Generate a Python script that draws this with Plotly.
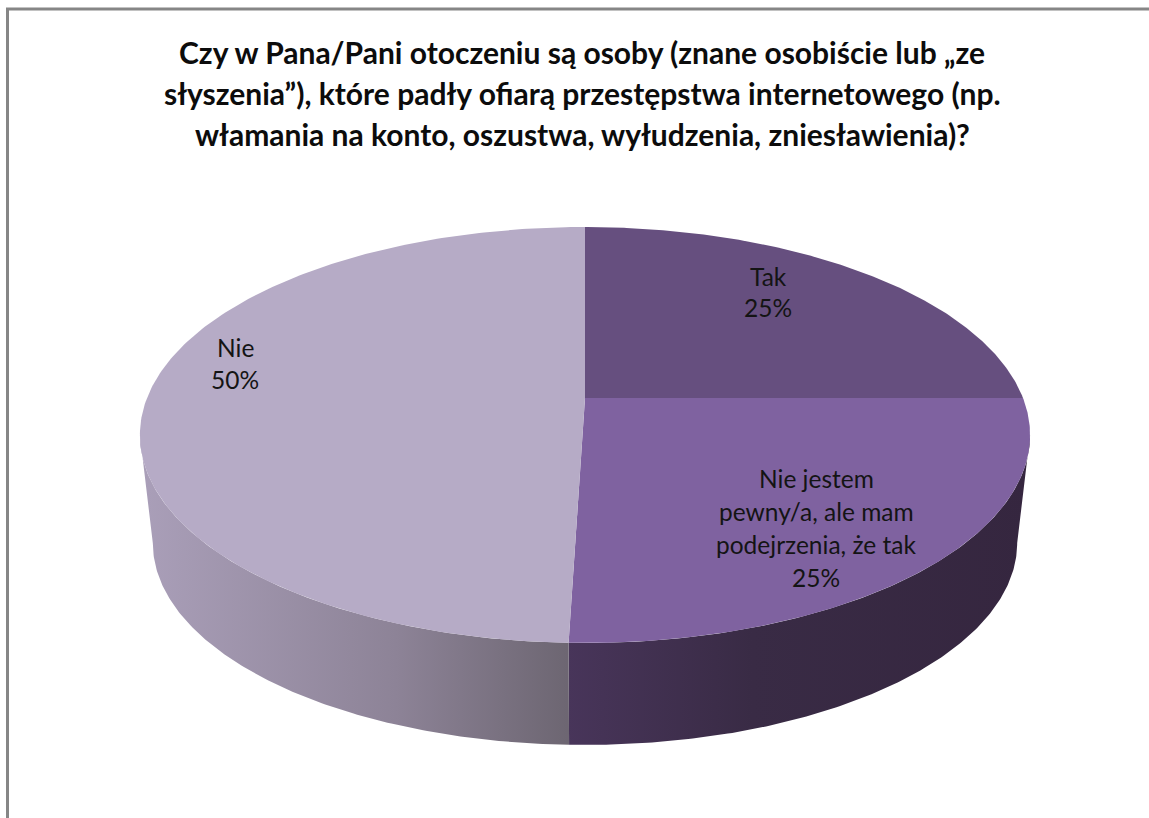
import numpy as np
import plotly.graph_objects as go

# --- data ---
categories = ["Tak", "Nie jestem pewny/a, ale mam podejrzenia, że tak", "Nie"]
values = [25.0, 25.49, 49.51]
top_colors = ["#664f7f", "#7f62a0", "#b6abc6"]
title_lines = [
    "Czy w Pana/Pani otoczeniu są osoby (znane osobiście lub „ze",
    "słyszenia”), które padły ofiarą przestępstwa internetowego (np.",
    "włamania na konto, oszustwa, wyłudzenia, zniesławienia)?",
]
label_lines = [["Tak", "25%"],
               ["Nie jestem", "pewny/a, ale mam", "podejrzenia, że tak", "25%"],
               ["Nie", "50%"]]

# --- geometry (pixel-like axis units) ---
W, H = 1149, 818
src = np.array([(0, 1), (1, 0), (0, -1), (-1, 0)], float)
dst = np.array([(585, 227), (1023, 398), (585, 643), (147, 398)], float)
A = []
b = []
for (u, v), (X, Y) in zip(src, dst):
    A.append([u, v, 1, 0, 0, 0, -u * X, -v * X]); b.append(X)
    A.append([0, 0, 0, u, v, 1, -u * Y, -v * Y]); b.append(Y)
h = np.linalg.solve(np.array(A), np.array(b))


def rim(theta):
    u, v = np.sin(theta), np.cos(theta)
    w = h[6] * u + h[7] * v + 1
    return (h[0] * u + h[1] * v + h[2]) / w, (h[3] * u + h[4] * v + h[5]) / w


def base(x, y):
    s = 0.971
    return 585 + (x - 585) * s, 543 + (y - 435) * s


fractions = np.cumsum([0] + values) / sum(values) * 2 * np.pi
fig = go.Figure()


def wall(t0, t1, start, stop, scale):
    t = np.linspace(t0, t1, 160)
    x, y = rim(t)
    bx, by = base(x, y)
    fig.add_trace(go.Scatter(
        x=np.r_[x, bx[::-1]], y=np.r_[y, by[::-1]], mode="lines", fill="toself",
        line=dict(width=0), hoverinfo="skip", showlegend=False,
        fillgradient=dict(type="horizontal", start=start, stop=stop, colorscale=scale)))


probe = np.linspace(0, 2 * np.pi, 1441)
px, _ = rim(probe)
right_t = probe[np.argmax(px)]
left_t = probe[np.argmin(px)]

wall(right_t, fractions[2], 567, 1030,
     [[0, "#48355a"], [0.4, "#392b45"], [1, "#35263f"]])
wall(fractions[2], left_t, 139, 567,
     [[0, "#aa9fb9"], [0.6, "#8d8397"], [1, "#6d6672"]])

apex_x, apex_y = h[2], h[5]
for i, name in enumerate(categories):
    t = np.linspace(fractions[i], fractions[i + 1], 240)
    x, y = rim(t)
    fig.add_trace(go.Scatter(
        x=np.r_[apex_x, x, apex_x], y=np.r_[apex_y, y, apex_y], mode="lines",
        fill="toself", fillcolor=top_colors[i], line=dict(width=0),
        name=name, hoverinfo="skip", showlegend=False))

annotations = []
for text, y in zip(title_lines, [52, 93, 134]):
    annotations.append(dict(x=582, y=y, text=text, showarrow=False, xanchor="center",
                            yanchor="middle", xref="x", yref="y",
                            font=dict(family="Lato", size=30, color="#0c0c0c", weight="bold")))
label_pos = [(768, [276, 307]), (816, [478, 511, 544, 577]), (235, [347, 379])]
for lines, (x, ys) in zip(label_lines, label_pos):
    for text, y in zip(lines, ys):
        annotations.append(dict(x=x, y=y, text=text, showarrow=False, xanchor="center",
                                yanchor="middle", xref="x", yref="y",
                                font=dict(family="Lato", size=24.5, color="#141414")))

shapes = [
    dict(type="line", x0=7.5, x1=7.5, y0=9, y1=H, xref="x", yref="y",
         line=dict(color="#868686", width=3)),
    dict(type="line", x0=6, x1=W, y0=9, y1=9, xref="x", yref="y",
         line=dict(color="#868686", width=3)),
]

fig.update_layout(
    width=W, height=H, margin=dict(l=0, r=0, t=0, b=0),
    paper_bgcolor="white", plot_bgcolor="white",
    xaxis=dict(range=[0, W], visible=False, fixedrange=True),
    yaxis=dict(range=[H, 0], visible=False, fixedrange=True),
    annotations=annotations, shapes=shapes, showlegend=False,
)
fig.write_html("out.html", config={"displayModeBar": False},
               post_script="document.body.style.margin='0';document.documentElement.style.overflow='hidden';")
